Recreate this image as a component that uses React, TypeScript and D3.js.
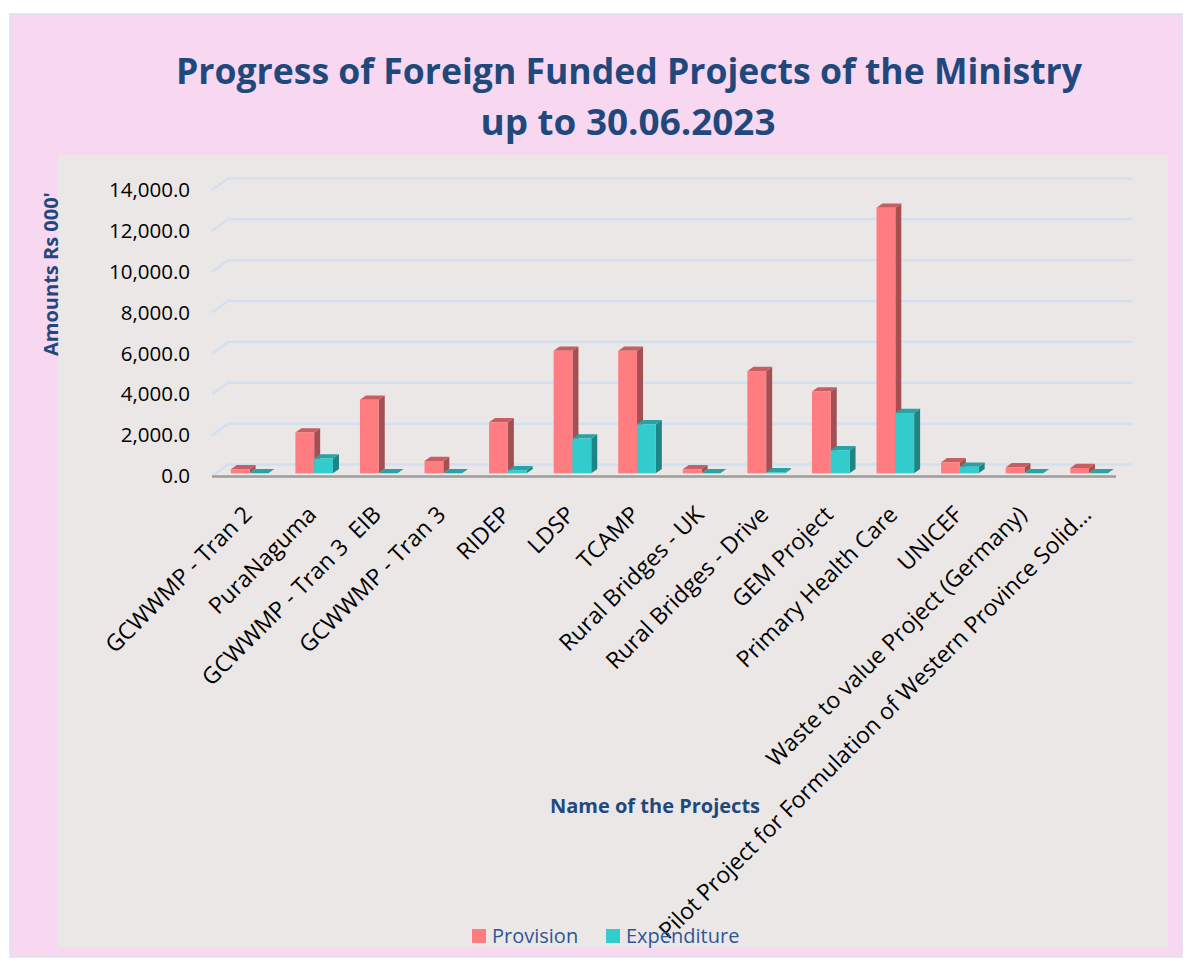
import React from "react";
import * as d3 from "d3";

const categories = [
  "GCWWMP - Tran 2",
  "PuraNaguma",
  "GCWWMP - Tran 3  EIB",
  "GCWWMP - Tran 3",
  "RIDEP",
  "LDSP",
  "TCAMP",
  "Rural Bridges - UK",
  "Rural Bridges - Drive",
  "GEM Project",
  "Primary Health Care",
  "UNICEF",
  "Waste to value Project (Germany)",
  "Pilot Project for Formulation of Western Province Solid…",
];
const provision = [200, 2000, 3600, 600, 2500, 6000, 6000, 200, 5000, 4000, 13000, 540, 290, 260];
const expenditure = [0, 720, 0, 0, 150, 1700, 2400, 0, 50, 1130, 2950, 320, 0, 0];
const yTicks = [0, 2000, 4000, 6000, 8000, 10000, 12000, 14000];
const seriesNames = ["Provision", "Expenditure"];

const W = 1187;
const H = 967;
const FONT = "'Open Sans', sans-serif";
const TITLE_COLOR = "#1F497D";

// face colours: front, side, top
const palette = [
  { front: "#FF7C80", side: "#A45052", top: "#C75E61" },
  { front: "#33CCCC", side: "#1F8484", top: "#27A3A3" },
];

export default function App() {
  const x = d3.scaleBand<string>().domain(categories).range([212, 1116]);
  const y = d3.scaleLinear().domain([0, 14000]).range([476, 190]);
  const fmt = d3.format(",.1f");

  // 3D offsets: back wall and bar depth
  const wallDx = 16;
  const wallDy = -11.5;
  const barShiftY = -2.7;
  const depthDx = 6;
  const depthDy = -4.3;
  const barW = 18.8;

  const bars: { key: string; x: number; v: number; s: number }[] = [];
  categories.forEach((c, i) => {
    [provision[i], expenditure[i]].forEach((v, s) => {
      bars.push({ key: `${c}-${s}`, x: (x(c) || 0) + 18.8 + s * barW, v, s });
    });
  });

  return (
    <svg
      width={W}
      height={H}
      style={{ position: "absolute", left: 0, top: 0, background: "#fff" }}
      fontFamily={FONT}
    >
      <rect x={10} y={14} width={1172} height={943} fill="#F8D8F0" stroke="#D9E1F2" strokeWidth={1.5} />
      <rect x={58} y={155} width={1110} height={792} fill="#EBE7E7" />

      <text x={629} y={84} textAnchor="middle" fontSize={35} fontWeight="bold" fill={TITLE_COLOR}
        textLength={906} lengthAdjust="spacingAndGlyphs">
        Progress of Foreign Funded Projects of the Ministry
      </text>
      <text x={628} y={135} textAnchor="middle" fontSize={35} fontWeight="bold" fill={TITLE_COLOR}
        textLength={295} lengthAdjust="spacingAndGlyphs">
        up to 30.06.2023
      </text>

      {/* gridlines on back wall */}
      {yTicks.map((t) => (
        <g key={t}>
          <polyline
            points={`212,${y(t)} ${212 + wallDx},${y(t) + wallDy} ${1116 + wallDx},${y(t) + wallDy}`}
            fill="none"
            stroke="#D3E0F2"
            strokeWidth={2.5}
          />
          <text x={190} y={y(t)} dy="0.35em" textAnchor="end" fontSize={20.5} fill="#000">
            {fmt(t)}
          </text>
        </g>
      ))}
      <line x1={212} x2={1116} y1={476.5} y2={476.5} stroke="#9C9C9C" strokeWidth={2.5} />

      {/* bars */}
      {bars.map((b) => {
        const col = palette[b.s];
        const y0 = y(0) + barShiftY;
        const y1 = y(b.v) + barShiftY;
        const xr = b.x + barW;
        return (
          <g key={b.key}>
            <polygon
              points={`${xr},${y1} ${xr + depthDx},${y1 + depthDy} ${xr + depthDx},${y0 + depthDy} ${xr},${y0}`}
              fill={col.side}
            />
            <polygon
              points={`${b.x},${y1} ${b.x + depthDx},${y1 + depthDy} ${xr + depthDx},${y1 + depthDy} ${xr},${y1}`}
              fill={col.top}
            />
            <rect x={b.x} y={y1} width={barW} height={Math.max(0, y0 - y1)} fill={col.front} />
          </g>
        );
      })}

      {/* category labels */}
      {categories.map((c) => (
        <text
          key={c}
          transform={`translate(${(x(c) || 0) + x.bandwidth() / 2 + 9},516) rotate(-45)`}
          textAnchor="end"
          fontSize={23}
          fill="#000"
          style={{ whiteSpace: "pre" }}
        >
          {c}
        </text>
      ))}

      <text transform="translate(58,274) rotate(-90)" textAnchor="middle" fontSize={20} fontWeight="bold" fill={TITLE_COLOR}>
        Amounts Rs 000'
      </text>
      <text x={655} y={813} textAnchor="middle" fontSize={20} fontWeight="bold" fill={TITLE_COLOR}>
        Name of the Projects
      </text>

      {/* legend */}
      {seriesNames.map((n, i) => (
        <g key={n} transform={`translate(${i === 0 ? 472 : 606},929)`}>
          <rect width={14} height={14} fill={palette[i].front} />
          <text x={20} y={14} fontSize={20} fill="#2F5597">
            {n}
          </text>
        </g>
      ))}
    </svg>
  );
}
